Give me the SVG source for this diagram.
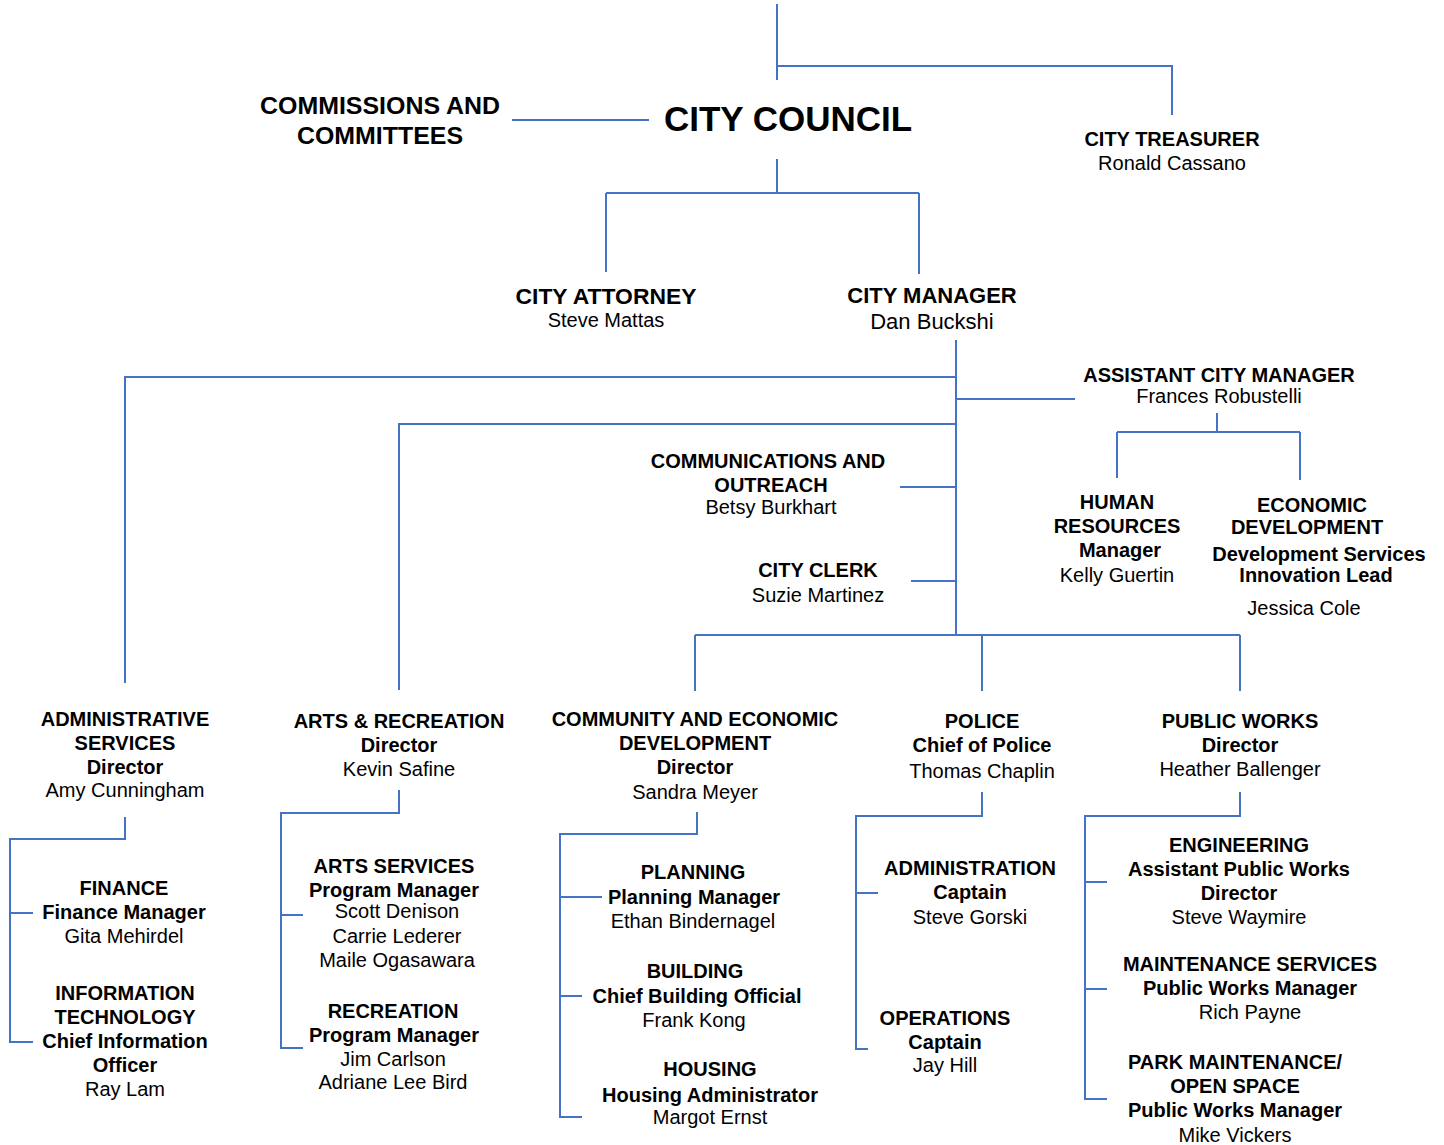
<svg xmlns="http://www.w3.org/2000/svg" width="1444" height="1145" viewBox="0 0 1444 1145">
<style>
text{font-family:"Liberation Sans",Arial,sans-serif;font-size:20px;fill:#000;text-anchor:middle}
.b{font-weight:bold}
.xl{font-size:35px;font-weight:bold}
.l{font-size:24px;font-weight:bold}
.m{font-size:22px}
#connectors path{fill:none;stroke:#4472C4;stroke-width:2}
</style>
<rect width="1444" height="1145" fill="#fff"/>
<g id="connectors">
<path d="M777,4 V80 M777,66 H1172 V115"/>
<path d="M512,120 H649"/>
<path d="M777,159 V193 M606,193 H919 M606,193 V272 M919,193 V274"/>
<path d="M956,340 V635"/>
<path d="M956,377 H125 V683"/>
<path d="M956,424 H399 V690"/>
<path d="M956,399 H1075"/>
<path d="M1217,413 V432 M1117,432 H1300 M1117,432 V478 M1300,432 V480"/>
<path d="M900,487 H956"/>
<path d="M911,581 H956"/>
<path d="M695,635 H1240 M695,635 V691 M982,635 V691 M1240,635 V691"/>
<path d="M125,817 V839 H10 V1042 H33 M10,913 H33"/>
<path d="M399,790 V813 H281 V1048 H303 M281,915 H303"/>
<path d="M697,812 V834 H560 V1117 H582 M560,897 H602 M560,996 H582"/>
<path d="M982,792 V816 H856 V1049 H868 M856,893 H878"/>
<path d="M1240,792 V816 H1085 V1099 H1107 M1085,882 H1107 M1085,989 H1107"/>
</g>
<g id="commissions">
<text class="l" x="380" y="114" textLength="240" lengthAdjust="spacingAndGlyphs">COMMISSIONS AND</text>
<text class="l" x="380" y="144" textLength="166" lengthAdjust="spacingAndGlyphs">COMMITTEES</text>
</g>
<g id="city-council"><text class="xl" x="788" y="131">CITY COUNCIL</text></g>
<g id="city-treasurer">
<text class="b" x="1172" y="146">CITY TREASURER</text>
<text x="1172" y="170">Ronald Cassano</text>
</g>
<g id="city-attorney">
<text class="b m" x="606" y="304" textLength="181" lengthAdjust="spacingAndGlyphs">CITY ATTORNEY</text>
<text x="606" y="327">Steve Mattas</text>
</g>
<g id="city-manager">
<text class="b m" x="932" y="303">CITY MANAGER</text>
<text class="m" x="932" y="329">Dan Buckshi</text>
</g>
<g id="assistant-city-manager">
<text class="b" x="1219" y="382">ASSISTANT CITY MANAGER</text>
<text x="1219" y="403">Frances Robustelli</text>
</g>
<g id="human-resources">
<text class="b" x="1117" y="509">HUMAN</text>
<text class="b" x="1117" y="533">RESOURCES</text>
<text class="b" x="1120" y="557">Manager</text>
<text x="1117" y="582">Kelly Guertin</text>
</g>
<g id="economic-development">
<text class="b" x="1312" y="512">ECONOMIC</text>
<text class="b" x="1307" y="534">DEVELOPMENT</text>
<text class="b" x="1319" y="561">Development Services</text>
<text class="b" x="1316" y="582">Innovation Lead</text>
<text x="1304" y="615">Jessica Cole</text>
</g>
<g id="communications">
<text class="b" x="768" y="468">COMMUNICATIONS AND</text>
<text class="b" x="771" y="492">OUTREACH</text>
<text x="771" y="514">Betsy Burkhart</text>
</g>
<g id="city-clerk">
<text class="b" x="818" y="577">CITY CLERK</text>
<text x="818" y="602">Suzie Martinez</text>
</g>
<g id="administrative-services">
<text class="b" x="125" y="726">ADMINISTRATIVE</text>
<text class="b" x="125" y="750">SERVICES</text>
<text class="b" x="125" y="774">Director</text>
<text x="125" y="797">Amy Cunningham</text>
</g>
<g id="finance">
<text class="b" x="124" y="895">FINANCE</text>
<text class="b" x="124" y="919">Finance Manager</text>
<text x="124" y="943">Gita Mehirdel</text>
</g>
<g id="information-technology">
<text class="b" x="125" y="1000">INFORMATION</text>
<text class="b" x="125" y="1024">TECHNOLOGY</text>
<text class="b" x="125" y="1048">Chief Information</text>
<text class="b" x="125" y="1072">Officer</text>
<text x="125" y="1096">Ray Lam</text>
</g>
<g id="arts-recreation">
<text class="b" x="399" y="728">ARTS &amp; RECREATION</text>
<text class="b" x="399" y="752">Director</text>
<text x="399" y="776">Kevin Safine</text>
</g>
<g id="arts-services">
<text class="b" x="394" y="873">ARTS SERVICES</text>
<text class="b" x="394" y="897">Program Manager</text>
<text x="397" y="918">Scott Denison</text>
<text x="397" y="943">Carrie Lederer</text>
<text x="397" y="967">Maile Ogasawara</text>
</g>
<g id="recreation">
<text class="b" x="393" y="1018">RECREATION</text>
<text class="b" x="394" y="1042">Program Manager</text>
<text x="393" y="1066">Jim Carlson</text>
<text x="393" y="1089">Adriane Lee Bird</text>
</g>
<g id="community-economic-development">
<text class="b" x="695" y="726">COMMUNITY AND ECONOMIC</text>
<text class="b" x="695" y="750">DEVELOPMENT</text>
<text class="b" x="695" y="774">Director</text>
<text x="695" y="799">Sandra Meyer</text>
</g>
<g id="planning">
<text class="b" x="693" y="879">PLANNING</text>
<text class="b" x="694" y="904">Planning Manager</text>
<text x="693" y="928">Ethan Bindernagel</text>
</g>
<g id="building">
<text class="b" x="695" y="978">BUILDING</text>
<text class="b" x="697" y="1003">Chief Building Official</text>
<text x="694" y="1027">Frank Kong</text>
</g>
<g id="housing">
<text class="b" x="710" y="1076">HOUSING</text>
<text class="b" x="710" y="1102">Housing Administrator</text>
<text x="710" y="1124">Margot Ernst</text>
</g>
<g id="police">
<text class="b" x="982" y="728">POLICE</text>
<text class="b" x="982" y="752">Chief of Police</text>
<text x="982" y="778">Thomas Chaplin</text>
</g>
<g id="police-administration">
<text class="b" x="970" y="875">ADMINISTRATION</text>
<text class="b" x="970" y="899">Captain</text>
<text x="970" y="924">Steve Gorski</text>
</g>
<g id="police-operations">
<text class="b" x="945" y="1025">OPERATIONS</text>
<text class="b" x="945" y="1049">Captain</text>
<text x="945" y="1072">Jay Hill</text>
</g>
<g id="public-works">
<text class="b" x="1240" y="728">PUBLIC WORKS</text>
<text class="b" x="1240" y="752">Director</text>
<text x="1240" y="776">Heather Ballenger</text>
</g>
<g id="engineering">
<text class="b" x="1239" y="852">ENGINEERING</text>
<text class="b" x="1239" y="876">Assistant Public Works</text>
<text class="b" x="1239" y="900">Director</text>
<text x="1239" y="924">Steve Waymire</text>
</g>
<g id="maintenance-services">
<text class="b" x="1250" y="971">MAINTENANCE SERVICES</text>
<text class="b" x="1250" y="995">Public Works Manager</text>
<text x="1250" y="1019">Rich Payne</text>
</g>
<g id="park-maintenance">
<text class="b" x="1235" y="1069">PARK MAINTENANCE/</text>
<text class="b" x="1235" y="1093">OPEN SPACE</text>
<text class="b" x="1235" y="1117">Public Works Manager</text>
<text x="1235" y="1142">Mike Vickers</text>
</g>
</svg>
